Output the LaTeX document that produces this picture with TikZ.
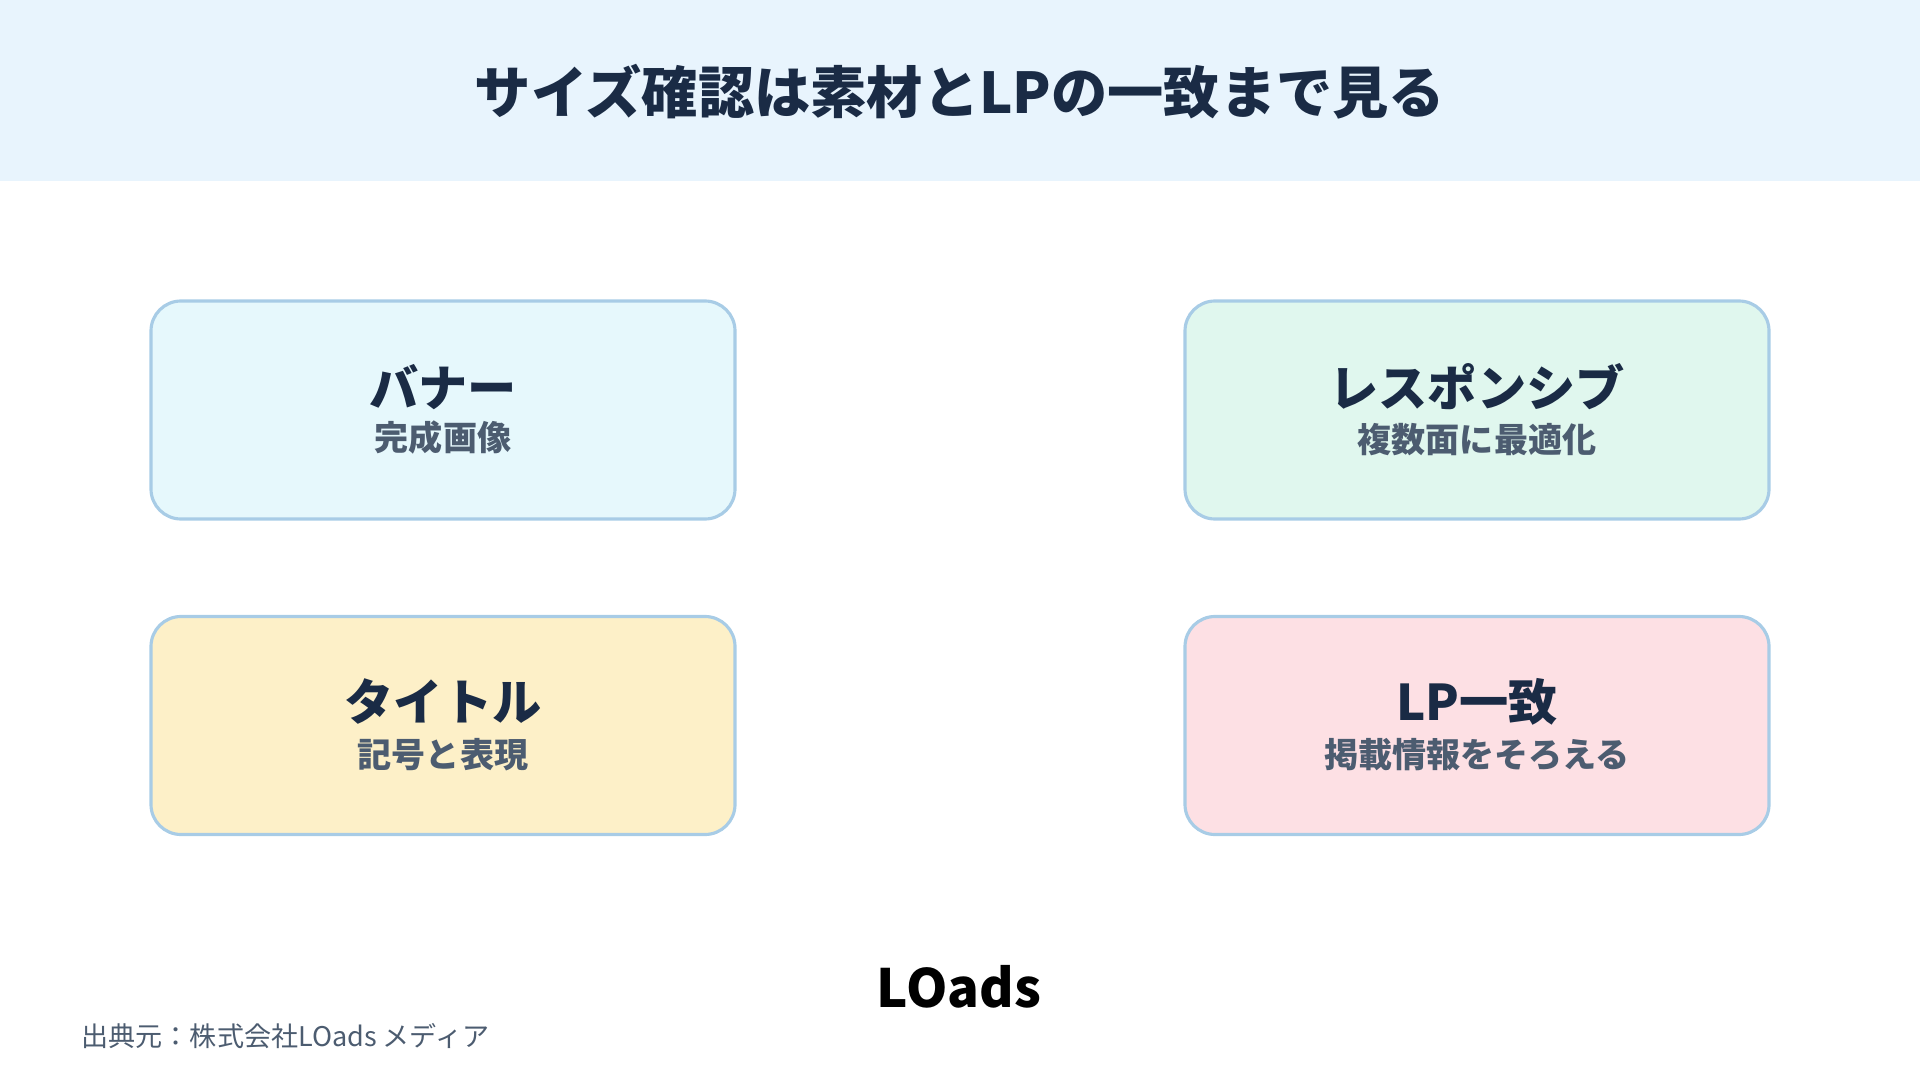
\documentclass[tikz,border=0pt]{standalone}
\usepackage{fontspec}
\setmainfont{Noto Sans CJK JP}
\usepackage{tikz}
\definecolor{navy}{HTML}{1A2B45}
\definecolor{subgray}{HTML}{4C5C70}
\definecolor{edgeblue}{HTML}{A8CCE6}
\definecolor{headbg}{HTML}{E8F4FD}
\definecolor{fillA}{HTML}{E6F8FC}
\definecolor{fillB}{HTML}{E0F7EE}
\definecolor{fillC}{HTML}{FDF0C8}
\definecolor{fillD}{HTML}{FDE0E4}
\tikzset{
    card/.style={draw=edgeblue, line width=0.9pt, rounded corners=0.3cm, minimum width=5.84cm, minimum height=2.18cm},
    head/.style={font=\bfseries\fontsize{14}{16}\selectfont, text=navy},
    sub/.style={font=\bfseries\fontsize{9.7}{11}\selectfont, text=subgray}
}
\begin{document}
\begin{tikzpicture}
    \useasboundingbox (0,0) rectangle (19.2,-10.8);
    \fill[headbg] (0,0) rectangle (19.2,-1.81);
    \node (title) [font=\bfseries\fontsize{16}{18}\selectfont, text=navy] at (9.6,-0.92) {サイズ確認は素材とLPの一致まで見る};

    \node (banner) [card, fill=fillA] at (4.43,-4.10) {};
    \node (resp) [card, fill=fillB] at (14.77,-4.10) {};
    \node (tit) [card, fill=fillC] at (4.43,-7.255) {};
    \node (lp) [card, fill=fillD] at (14.77,-7.255) {};

    \node (bannerh) [head] at (4.43,-3.87) {バナー};
    \node (banners) [sub] at (4.43,-4.38) {完成画像};
    \node (resph) [head] at (14.77,-3.87) {レスポンシブ};
    \node (resps) [sub] at (14.77,-4.40) {複数面に最適化};
    \node (tith) [head] at (4.43,-7.02) {タイトル};
    \node (tits) [sub] at (4.43,-7.55) {記号と表現};
    \node (lph) [head] at (14.77,-7.02) {LP一致};
    \node (lps) [sub] at (14.77,-7.55) {掲載情報をそろえる};

    \node (logo) [font=\bfseries\fontsize{15}{17}\selectfont, text=black] at (9.59,-9.87) {LOads};
    \node (credit) [anchor=west, font=\fontsize{7.7}{9}\selectfont, text=subgray, inner sep=0pt] at (0.81,-10.36) {出典元：株式会社LOads メディア};
\end{tikzpicture}
\end{document}
